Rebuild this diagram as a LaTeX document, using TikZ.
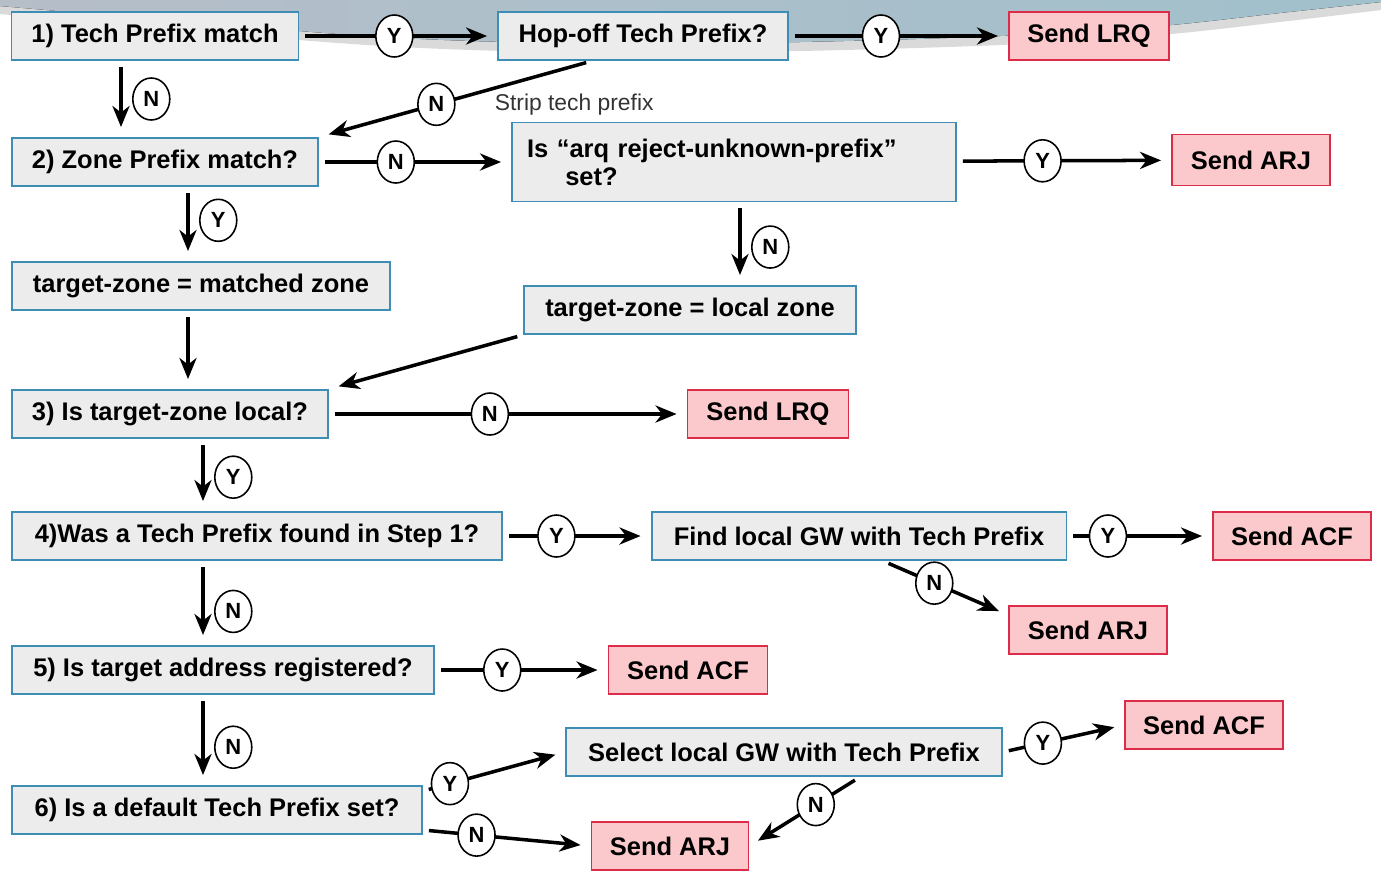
\documentclass[tikz,border=0pt]{standalone}
\usepackage{fontspec}
\setmainfont{Liberation Sans}
\usetikzlibrary{arrows.meta,positioning,shapes.geometric}

\definecolor{boxfill}{HTML}{ECECEC}
\definecolor{boxline}{HTML}{3D8DB5}
\definecolor{sendfill}{HTML}{FBC9CB}
\definecolor{sendline}{HTML}{DD2C4A}
\definecolor{swleft}{HTML}{B6BEC8}
\definecolor{swmid}{HTML}{9FC8D6}
\definecolor{swright}{HTML}{A0C0CC}
\definecolor{swshade}{HTML}{DADADA}

\tikzset{
  qbox/.style={draw=boxline, line width=1.1pt, fill=boxfill, minimum height=0.96cm,
    inner sep=0pt, font=\fontsize{14.5}{17}\selectfont\bfseries},
  sendbox/.style={qbox, draw=sendline, fill=sendfill},
  yn/.style={ellipse, draw, line width=0.9pt, fill=white, minimum width=0.74cm,
    minimum height=0.84cm, inner sep=0pt, font=\fontsize{12.5}{13}\selectfont\bfseries},
  flow/.style={line width=2pt, -{Stealth[length=0.42cm,width=0.34cm,inset=0.13cm]},
    shorten >=0.2cm, shorten <=0.12cm},
  note/.style={font=\fontsize{13}{15}\selectfont, text=black!80}
}

\begin{document}
\begin{tikzpicture}[x=0.02cm, y=-0.02cm]

    \useasboundingbox (0,0) rectangle (1381,870);

    % the swoosh at the top, with its shadow
    \fill[swshade]
        (0,0) -- plot[smooth] coordinates {(0,14) (200,32) (400,47) (600,53) (800,51) (1000,45) (1160,35) (1280,22) (1381,10)} -- (1381,0) -- cycle;
    \fill[left color=swleft, middle color=swmid, right color=swright]
        (0,0) -- plot[smooth] coordinates {(0,6) (200,23) (400,38) (600,44) (800,42) (1000,36) (1160,26) (1280,13) (1381,2)} -- (1381,0) -- cycle;

    % these are the steps
    \node[qbox, minimum width=5.74cm] (techmatch) at (155,36) {1) Tech Prefix match};
    \node[qbox, minimum width=5.80cm] (hopoff) at (643,36) {Hop-off Tech Prefix?};
    \node[sendbox, minimum width=3.20cm] (lrqa) at (1089,36) {Send LRQ};

    \node[qbox, minimum width=6.12cm] (zonematch) at (165,162) {2) Zone Prefix match?};
    \node[qbox, minimum height=1.58cm, text width=8.28cm, inner xsep=0.3cm, align=left] (arqset) at (734,162)
        {Is “arq reject-unknown-prefix”\\[-1pt]\hspace*{1.5em}set?};
    \node[sendbox, minimum width=3.16cm, minimum height=1.02cm] (arja) at (1251,160) {Send ARJ};

    \node[qbox, minimum width=7.56cm] (matched) at (201,286) {target-zone = matched zone};
    \node[qbox, minimum width=6.64cm] (localzone) at (690,310) {target-zone = local zone};

    \node[qbox, minimum width=6.32cm] (islocal) at (170,414) {3) Is target-zone local?};
    \node[sendbox, minimum width=3.22cm] (lrqb) at (768,414) {Send LRQ};

    \node[qbox, minimum width=9.82cm] (tpfound) at (257,536) {4)Was a Tech Prefix found in Step 1?};
    \node[qbox, minimum width=8.30cm] (findgw) at (859,536) {Find local GW with Tech Prefix};
    \node[sendbox, minimum width=3.16cm] (acfa) at (1292,536) {Send ACF};
    \node[sendbox, minimum width=3.16cm] (arjb) at (1088,630) {Send ARJ};

    \node[qbox, minimum width=8.44cm] (registered) at (223,670) {5) Is target address registered?};
    \node[sendbox, minimum width=3.18cm] (acfb) at (688,670) {Send ACF};

    \node[qbox, minimum width=8.72cm] (selectgw) at (784,752) {Select local GW with Tech Prefix};
    \node[sendbox, minimum width=3.16cm] (acfc) at (1204,725) {Send ACF};
    \node[qbox, minimum width=8.20cm] (defaulttp) at (217,810) {6) Is a default Tech Prefix set?};
    \node[sendbox, minimum width=3.14cm] (arjc) at (670,846) {Send ARJ};

    % these are the decisions
    \draw[flow] (techmatch) -- node[yn, pos=0.48] {Y} (hopoff);
    \draw[flow] (hopoff) -- node[yn, pos=0.42] {Y} (lrqa);
    \draw[flow] ([xshift=-0.68cm]techmatch.south) -- node[yn, pos=0.5, right=0.22cm] {N} ([xshift=-0.68cm]techmatch.south |- zonematch.north);
    \draw[flow] ([xshift=-1.02cm]hopoff.south) -- node[yn, pos=0.57] (stripn) {N} (zonematch.north east);
    \node[note, right=0.66cm of stripn] (strip) {Strip tech prefix};

    \draw[flow] (zonematch) -- node[yn, pos=0.40] {N} (arqset);
    \draw[flow] (arqset) -- node[yn, pos=0.40] {Y} (arja);
    \draw[flow] ([xshift=0.46cm]zonematch.south) -- node[yn, pos=0.45, right=0.22cm] {Y} ([xshift=0.46cm]zonematch.south |- matched.north);
    \draw[flow] ([xshift=0.12cm]arqset.south) -- node[yn, pos=0.54, right=0.22cm] {N} ([xshift=0.12cm]arqset.south |- localzone.north);

    \draw[flow] ([xshift=-0.26cm]matched.south) -- ([xshift=-0.26cm]matched.south |- islocal.north);
    \draw[flow] (localzone.south west) -- (islocal.north east);

    \draw[flow] (islocal) -- node[yn, pos=0.45] {N} (lrqb);
    \draw[flow] ([xshift=0.66cm]islocal.south) -- node[yn, pos=0.53, right=0.22cm] {Y} ([xshift=0.66cm]islocal.south |- tpfound.north);

    \draw[flow] (tpfound) -- node[yn, pos=0.36] {Y} (findgw);
    \draw[flow] (findgw) -- node[yn, pos=0.28] {Y} (acfa);
    \draw[flow] ([xshift=0.48cm]findgw.south) -- node[yn, pos=0.41] {N} ([yshift=-0.2cm]arjb.north west);
    \draw[flow] ([xshift=-1.08cm]tpfound.south) -- node[yn, pos=0.6, right=0.22cm] {N} ([xshift=-1.08cm]tpfound.south |- registered.north);

    \draw[flow] (registered) -- node[yn, pos=0.39] {Y} (acfb);
    \draw[flow] ([xshift=-0.4cm]registered.south) -- node[yn, pos=0.58, right=0.22cm] {N} ([xshift=-0.4cm]registered.south |- defaulttp.north);

    \draw[flow] ([yshift=-0.12cm]defaulttp.north east) -- node[yn, pos=0.19] {Y} (selectgw.west);
    \draw[flow] ([yshift=0.1cm]defaulttp.south east) -- node[yn, pos=0.32] {N} (arjc.west);
    \draw[flow] (selectgw.east) -- node[yn, pos=0.33] {Y} (acfc.west);
    \draw[flow] ([xshift=1.52cm]selectgw.south) -- node[yn, pos=0.4] {N} (arjc.east);

\end{tikzpicture}
\end{document}
